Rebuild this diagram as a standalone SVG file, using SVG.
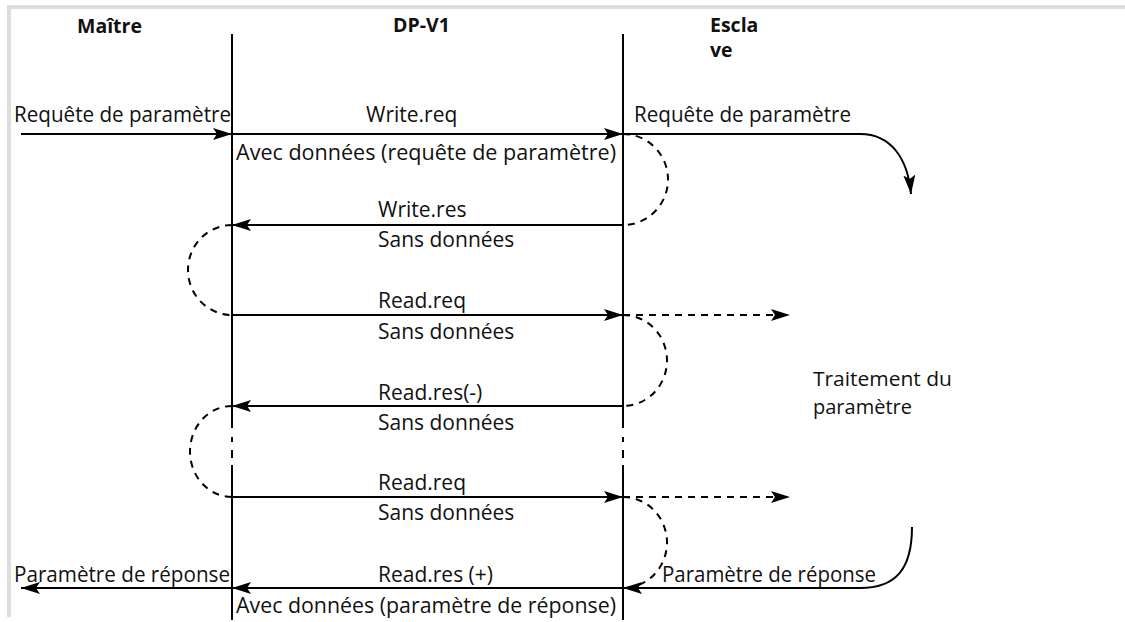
<svg xmlns="http://www.w3.org/2000/svg" width="1125" height="622" viewBox="0 0 1125 622">
<defs>
<marker id="ah" markerUnits="userSpaceOnUse" markerWidth="20" markerHeight="14" viewBox="0 0 20 14" refX="19" refY="7" orient="auto">
<path d="M0,1 L19,7 L0,13 L4,7 z" fill="#000"/>
</marker>
<style>
.t{font-family:"Open Sans","Noto Sans","Liberation Sans",sans-serif;font-size:21px;fill:#111}
.s{font-family:"Open Sans","Noto Sans","Liberation Sans",sans-serif;font-size:20px;fill:#111}
.h{font-family:"Open Sans","Noto Sans","Liberation Sans",sans-serif;font-size:19.5px;font-weight:bold;fill:#111}
.ln{stroke:#000;stroke-width:2;fill:none}
.ar{stroke:#000;stroke-width:2;fill:none;marker-end:url(#ah)}
.da{stroke:#000;stroke-width:2;fill:none;stroke-dasharray:7 6;marker-end:url(#ah)}
.arc{stroke:#000;stroke-width:2;fill:none;stroke-dasharray:7 6}
</style>
</defs>
<rect width="1125" height="622" fill="#fff"/>
<path d="M9,617 V7 H1125" stroke="#dddddd" stroke-width="4" fill="none"/>

<g id="lifeline-master">
<text class="h" x="77" y="33">Maître</text>
<path class="ln" d="M232,34 V428 M232,437 V442 M232,450 V458 M232,465 V620"/>
</g>
<g id="lifeline-dpv1">
<text class="h" x="393" y="32">DP-V1</text>
</g>
<g id="lifeline-slave">
<text class="h" x="710" y="32">Escla</text>
<text class="h" x="710" y="57">ve</text>
<path class="ln" d="M623,34 V428 M623,437 V442 M623,450 V458 M623,465 V620"/>
</g>

<g id="connectors">
<path class="ar" d="M21,134 H232"/>
<path class="ar" d="M232,134 H623"/>
<path class="ar" d="M623,134 H860 C892,134 908,160 911,194"/>
<path class="arc" d="M623,134 A45 45.5 0 0 1 623,225"/>
<path class="ar" d="M623,225 H232"/>
<path class="arc" d="M232,225 A44 45 0 0 0 232,315"/>
<path class="ar" d="M232,315 H623"/>
<path class="da" d="M623,315 H790"/>
<path class="arc" d="M623,315 A44 45.5 0 0 1 623,406"/>
<path class="ar" d="M623,406 H232"/>
<path class="arc" d="M232,406 A42 45.5 0 0 0 232,497"/>
<path class="ar" d="M232,497 H623"/>
<path class="da" d="M623,497 H790"/>
<path class="arc" d="M623,497 A44 45.5 0 0 1 623,588"/>
<path class="ar" d="M912,527 C912,570 895,588 860,588 H623"/>
<path class="ar" d="M623,588 H232"/>
<path class="ar" d="M232,588 H21"/>
</g>

<g id="labels">
<text class="t" x="14" y="122" textLength="217" lengthAdjust="spacingAndGlyphs">Requête de paramètre</text>
<text class="t" x="366" y="122">Write.req</text>
<text class="t" x="634" y="122" textLength="217" lengthAdjust="spacingAndGlyphs">Requête de paramètre</text>
<text class="t" x="236" y="160" textLength="380" lengthAdjust="spacingAndGlyphs">Avec données (requête de paramètre)</text>
<text class="t" x="378" y="217">Write.res</text>
<text class="t" x="378" y="247">Sans données</text>
<text class="t" x="378" y="308">Read.req</text>
<text class="t" x="378" y="339">Sans données</text>
<text class="t" x="378" y="400">Read.res(-)</text>
<text class="t" x="378" y="430">Sans données</text>
<text class="s" x="813" y="386" textLength="139" lengthAdjust="spacingAndGlyphs">Traitement du</text>
<text class="s" x="813" y="414">paramètre</text>
<text class="t" x="378" y="490">Read.req</text>
<text class="t" x="378" y="520">Sans données</text>
<text class="t" x="378" y="582">Read.res (+)</text>
<text class="t" x="14" y="582" textLength="216" lengthAdjust="spacingAndGlyphs">Paramètre de réponse</text>
<text class="t" x="662" y="582" textLength="214" lengthAdjust="spacingAndGlyphs">Paramètre de réponse</text>
<text class="t" x="236" y="613" textLength="380" lengthAdjust="spacingAndGlyphs">Avec données (paramètre de réponse)</text>
</g>
</svg>
